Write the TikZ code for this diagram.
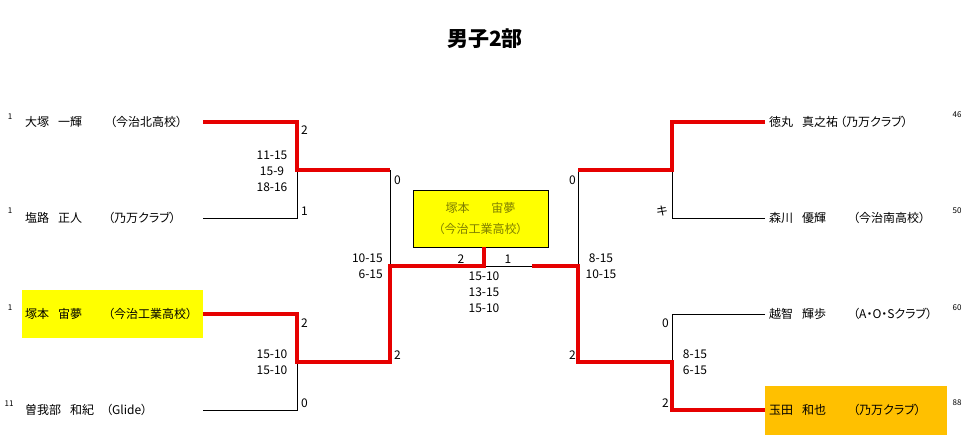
\documentclass[tikz,border=0pt]{standalone}
\usepackage{fontspec}
\setmainfont{Noto Sans CJK JP}[RawFeature=+palt]
\usetikzlibrary{positioning}
\definecolor{winred}{RGB}{230,0,0}
\definecolor{hlyellow}{RGB}{255,255,0}
\definecolor{hlorange}{RGB}{255,192,0}
\definecolor{olivetext}{RGB}{128,128,0}
\newcommand{\gap}{\hspace{0.75em}}
\tikzset{
  entry/.style={anchor=west,inner sep=0pt,font=\fontsize{12}{14}\selectfont},
  seed/.style={inner sep=0pt,font=\fontsize{8}{9}\selectfont},
  score/.style={inner sep=0pt,align=center,font=\fontsize{12}{16}\selectfont},
  pts/.style={inner sep=0pt,font=\fontsize{12}{14}\selectfont},
  win/.style={winred,line width=3.2pt,line join=miter},
  lose/.style={black,line width=0.9pt}
}
\begin{document}
\begin{tikzpicture}[x=1pt,y=-1pt]
\useasboundingbox (0,0) rectangle (969,435);
\fill[hlyellow] (22,290) rectangle (203,338);
\fill[hlorange] (765,386) rectangle (947,435);
\node[font=\fontsize{21}{24}\selectfont\bfseries] (title) at (485,39) {男子2部};
% left side
\node[seed] (k1) at (10,117) {1};
\node[seed] (k2) at (10,211) {1};
\node[seed] (k3) at (10,308) {1};
\node[seed] (k4) at (9,404) {11};
\node[entry] (p1) at (25,122) {大塚\gap 一輝};
\node[entry] (t1) at (110,122) {（今治北高校）};
\node[entry] (p2) at (25,218) {塩路\gap 正人};
\node[entry] (t2) at (108,218) {（乃万クラブ）};
\node[entry] (p3) at (25,314) {塚本\gap 宙夢};
\node[entry] (t3) at (108,314) {（今治工業高校）};
\node[entry] (p4) at (25,410) {曽我部\gap 和紀};
\node[entry] (t4) at (106,410) {（Glide）};
% right side
\node[seed] (k5) at (957,115) {46};
\node[seed] (k6) at (957,211) {50};
\node[seed] (k7) at (957,308) {60};
\node[seed] (k8) at (957,403) {88};
\node[entry] (p5) at (769,122) {徳丸\gap 真之祐};
\node[entry] (t5) at (840,122) {（乃万クラブ）};
\node[entry] (p6) at (769,218) {森川\gap 優輝};
\node[entry] (t6) at (853,218) {（今治南高校）};
\node[entry] (p7) at (769,314) {越智\gap 輝歩};
\node[entry] (t7) at (853,314) {（A・O・Sクラブ）};
\node[entry] (p8) at (769,410) {玉田\gap 和也};
\node[entry] (t8) at (853,410) {（乃万クラブ）};
% champion
\node[draw,fill=hlyellow,minimum width=135,minimum height=57,inner sep=0pt,align=center,
  text=olivetext,font=\fontsize{12}{21}\selectfont] (champ) at (480.5,218.5)
  {塚本\hspace{1.8em}宙夢\\（今治工業高校）};
\coordinate (e1) at (203,122);
\coordinate (e2) at (203,218);
\coordinate (e3) at (203,314);
\coordinate (e4) at (203,410);
\coordinate (m1) at (297,170);
\coordinate (m2) at (297,362);
\coordinate (q1) at (390,170);
\coordinate (q2) at (390,362);
\coordinate (c1) at (390,266);
\coordinate (f1) at (484,266);
\coordinate (e5) at (765,122);
\coordinate (e6) at (765,218);
\coordinate (e7) at (765,314);
\coordinate (e8) at (765,410);
\coordinate (m3) at (672,170);
\coordinate (m4) at (672,362);
\coordinate (q3) at (578,170);
\coordinate (q4) at (578,362);
\coordinate (c2) at (578,266);
\coordinate (f2) at (532,266);
\draw[lose] (e2) -| (m1);
\draw[lose] (e4) -| (m2);
\draw[lose] (q1) -- (c1);
\draw[lose] (f1) -- (f2);
\draw[lose] (e6) -| (m3);
\draw[lose] (e7) -| (m4);
\draw[lose] (q3) -- (c2);
\draw[win] (e1) -| (m1) -- (q1);
\draw[win] (e3) -| (m2) -- (q2) -- (c1) -- (f1) -- (f1 |- champ.south);
\draw[win] (e5) -| (m3) -- (q3);
\draw[win] (e8) -| (m4) -- (q4) -- (c2) -- (f2);
% points
\node[pts,anchor=west] (g1) at (301,130) {2};
\node[pts,anchor=west] (g2) at (301,211) {1};
\node[pts,anchor=west] (g3) at (301,323) {2};
\node[pts,anchor=west] (g4) at (301,403) {0};
\node[pts,anchor=west] (g5) at (394,180) {0};
\node[pts,anchor=west] (g6) at (394,355) {2};
\node[pts] (g7) at (461,259) {2};
\node[pts] (g8) at (508,259) {1};
\node[pts,anchor=east] (g9) at (576,180) {0};
\node[pts,anchor=east] (g10) at (576,355) {2};
\node[pts,anchor=east] (g11) at (668,211) {キ};
\node[pts,anchor=east] (g12) at (669,323) {0};
\node[pts,anchor=east] (g13) at (669,403) {2};
% scores
\node[score] (sc1) at (272,171) {11-15\\15-9\\18-16};
\node[score] (sc2) at (272,362) {15-10\\15-10};
\node[score,align=right,anchor=east] (sc3) at (383,266) {10-15\\6-15};
\node[score] (sc4) at (484,292) {15-10\\13-15\\15-10};
\node[score] (sc5) at (601,266) {8-15\\10-15};
\node[score] (sc6) at (695,362) {8-15\\6-15};
\end{tikzpicture}
\end{document}
